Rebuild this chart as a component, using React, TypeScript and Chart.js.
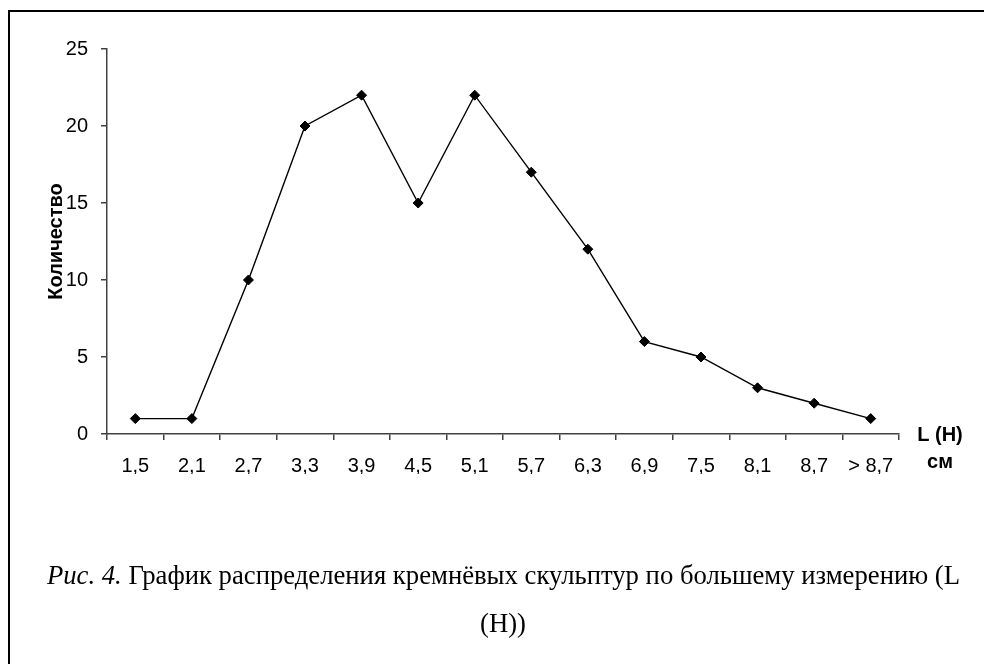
import React, { useEffect, useRef } from "react";
import { Chart, registerables } from "chart.js";

Chart.register(...registerables);

const categories = ["1,5", "2,1", "2,7", "3,3", "3,9", "4,5", "5,1", "5,7", "6,3", "6,9", "7,5", "8,1", "8,7", "> 8,7"];
const counts = [1, 1, 10, 20, 22, 15, 22, 17, 12, 6, 5, 3, 2, 1];
const yMin = 0;
const yMax = 25;
const yStep = 5;
const yTitle = "Количество";
const xUnitLine1 = "L (H)";
const xUnitLine2 = "см";
const captionItalic = "Рис. 4.";
const captionRest = " График распределения кремнёвых скульптур по большему измерению (L";
const captionLine2 = "(H))";

const SANS = "'Liberation Sans', Arial, sans-serif";
const SERIF = "'Liberation Serif', 'Times New Roman', serif";
const AXIS = "#404040";

const unitPlugin = {
  id: "unitLabels",
  afterDraw(chart: any) {
    const { ctx, chartArea } = chart;
    ctx.save();
    ctx.font = `bold 20px ${SANS}`;
    ctx.fillStyle = "#000";
    ctx.textAlign = "center";
    ctx.textBaseline = "middle";
    ctx.fillText(xUnitLine1, chartArea.right + 41, chartArea.bottom + 1);
    ctx.fillText(xUnitLine2, chartArea.right + 41, chartArea.bottom + 28);
    ctx.restore();
  },
};

export default function App() {
  const ref = useRef<HTMLCanvasElement | null>(null);

  useEffect(() => {
    if (!ref.current) return;
    Chart.defaults.font.family = SANS;
    Chart.defaults.color = "#000";
    const chart = new Chart(ref.current, {
      type: "line",
      data: {
        labels: categories,
        datasets: [
          {
            data: counts,
            borderColor: "#000",
            borderWidth: 1.4,
            pointStyle: "rectRot",
            pointRadius: 5,
            pointBackgroundColor: "#000",
            pointBorderColor: "#000",
            pointBorderWidth: 1,
            tension: 0,
            fill: false,
          },
        ],
      },
      options: {
        animation: false,
        responsive: false,
        devicePixelRatio: 1,
        layout: { padding: { left: 44, top: 49, right: 85, bottom: 190 } },
        plugins: { legend: { display: false }, tooltip: { enabled: false } },
        scales: {
          x: {
            type: "category",
            offset: true,
            grid: {
              display: true,
              drawOnChartArea: false,
              drawTicks: true,
              tickLength: 6,
              color: AXIS,
              lineWidth: 1.5,
              offset: true,
            },
            border: { display: true, color: AXIS, width: 1.5 },
            ticks: {
              color: "#000",
              font: { size: 20 },
              padding: 14,
              maxRotation: 0,
              minRotation: 0,
              autoSkip: false,
            },
            afterFit: (s: any) => {
              s.height = 40;
            },
          },
          y: {
            min: yMin,
            max: yMax,
            grid: {
              display: true,
              drawOnChartArea: false,
              drawTicks: true,
              tickLength: 6,
              color: AXIS,
              lineWidth: 1.5,
            },
            border: { display: true, color: AXIS, width: 1.5 },
            ticks: { stepSize: yStep, padding: 13, color: "#000", font: { size: 20 } },
            title: {
              display: true,
              text: yTitle,
              color: "#000",
              font: { size: 20, weight: "bold" },
              padding: 0,
            },
            afterFit: (s: any) => {
              s.width = 63;
            },
          },
        },
      },
      plugins: [unitPlugin],
    } as any);
    return () => chart.destroy();
  }, []);

  const capStyle: React.CSSProperties = {
    position: "absolute",
    whiteSpace: "nowrap",
    fontFamily: SERIF,
    fontSize: 26.7,
    lineHeight: "27px",
    color: "#000",
  };

  return (
    <div style={{ position: "fixed", left: 0, top: 0, width: 984, height: 664, background: "#fff", overflow: "hidden" }}>
      <div
        style={{
          position: "absolute",
          left: 8,
          top: 10,
          width: 2000,
          height: 2000,
          borderLeft: "2px solid #000",
          borderTop: "2px solid #000",
          pointerEvents: "none",
        }}
      />
      <canvas ref={ref} width={984} height={664} style={{ position: "absolute", left: 0, top: 0, width: 984, height: 664 }} />
      <div style={{ ...capStyle, right: 24, top: 562, textAlign: "right" }}>
        <i>{captionItalic}</i>
        {captionRest}
      </div>
      <div style={{ ...capStyle, left: 480, top: 610 }}>{captionLine2}</div>
    </div>
  );
}
